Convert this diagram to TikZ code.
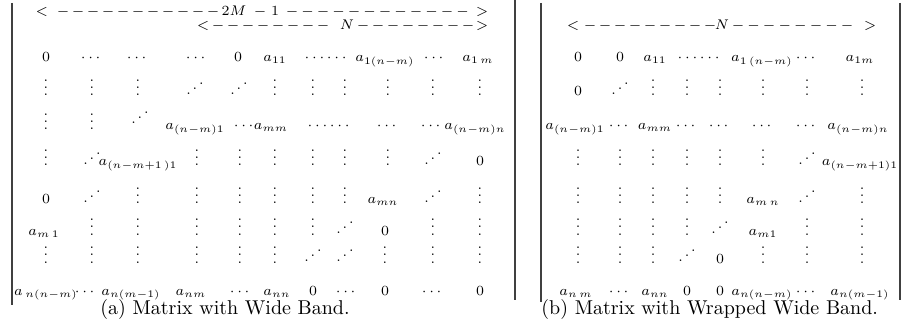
\documentclass[tikz,border=0pt]{standalone}
\usepackage{amsmath}
\newcommand{\myud}{\mathinner{\mkern1mu\raisebox{0.1em}{.}\mkern2mu\raisebox{0.45em}{.}\mkern2mu\raisebox{0.8em}{.}\mkern1mu}}
\newcommand{\myvd}{\vbox{\baselineskip3.6pt\lineskiplimit0pt\hbox{.}\hbox{.}\hbox{.}}}
\tikzset{
  ent/.style={anchor=base, inner sep=0pt, font=\scriptsize},
  capt/.style={anchor=base west, inner sep=0pt, font=\normalsize},
  rule/.style={line width=1pt, black!75}
}
\begin{document}
\begin{tikzpicture}[x=0.5pt,y=-0.5pt]
\useasboundingbox (0,0) rectangle (903,336);
% frame rules
\draw[rule] (12,3) -- (12,305);
\draw[rule] (515,0) -- (515,300);
\draw[rule] (541,3) -- (541,302);
\draw[rule] (900,3) -- (900,300);
% ---------- panel (a) headers ----------
\node[ent] (ha-l) at (42,16) {$<$};
\foreach \x [count=\i] in {63,78,...,213} \node[ent] (ha-\i) at (\x,16) {$-$};
\node[ent] (ha-2m) at (234,16) {$2M$};
\node[ent] (ha-m) at (260,16) {$-$};
\node[ent] (ha-1) at (275,16) {$1$};
\foreach \k [count=\i] in {0,...,11} \node[ent] (hb-\i) at ({292+15.5*\k},16) {$-$};
\node[ent] (ha-r) at (482,16) {$>$};
\node[ent] (hc-l) at (203,30) {$<$};
\foreach \x [count=\i] in {218,233,...,323} \node[ent] (hc-\i) at (\x,30) {$-$};
\node[ent] (hc-n) at (347,30) {$N$};
\foreach \x [count=\i] in {363,378,...,468} \node[ent] (hd-\i) at (\x,30) {$-$};
\node[ent] (hc-r) at (482,30) {$>$};
% ---------- panel (a) matrix ----------
\foreach \x/\t [count=\i] in {46/0,92/\cdots,138/\cdots,197/\cdots,238/0,275/a_{11},327/\cdots\cdots,385/a_{1(n-m)},435/\cdots,478/a_{1\,m}}
  \node[ent] (A1-\i) at (\x,62) {$\t$};
\foreach \x/\t [count=\i] in {46/\myvd,92/\myvd,138/\myvd,195/\myud,239/\myud,275/\myvd,313/\myvd,345/\myvd,388/\myvd,433/\myvd,480/\myvd}
  \node[ent] (A2-\i) at (\x,96) {$\t$};
\foreach \x/\t [count=\i] in {46/\myvd,92/\myvd,195/a_{(n-m)1},245/\cdots,271/a_{mm},330/\cdots\cdots,388/\cdots,432/\cdots,475/a_{(n-m)n}}
  \node[ent] (A3-\i) at (\x,130) {$\t$};
\node[ent] (A3-u) at (140,125) {$\myud$};
\foreach \x/\t [count=\i] in {46/\myvd,92/\myud,138/a_{(n-m+1\,)1},197/\myvd,240/\myvd,275/\myvd,313/\myvd,345/\myvd,388/\myvd,433/\myud,480/0}
  \node[ent] (A4-\i) at (\x,166) {$\t$};
\foreach \x/\t [count=\i] in {46/0,92/\myud,138/\myvd,197/\myvd,240/\myvd,275/\myvd,313/\myvd,345/\myvd,383/a_{mn},433/\myud,480/\myvd}
  \node[ent] (A5-\i) at (\x,204) {$\t$};
\foreach \x/\t [count=\i] in {44/a_{m\,1},92/\myvd,138/\myvd,197/\myvd,240/\myvd,275/\myvd,313/\myvd,345/\myud,385/0,433/\myvd,480/\myvd}
  \node[ent] (A6-\i) at (\x,235) {$\t$};
\foreach \x/\t [count=\i] in {46/\myvd,92/\myvd,138/\myvd,197/\myvd,240/\myvd,275/\myvd,313/\myud,345/\myud,385/\myvd,433/\myvd,480/\myvd}
  \node[ent] (A7-\i) at (\x,263) {$\t$};
\foreach \x/\t [count=\i] in {46/a_{\,n(n-m)},86/\cdots,131/a_{n(m-1)},191/a_{nm},241/\cdots,277/a_{nn},313/0,347/\cdots,385/0,433/\cdots,480/0}
  \node[ent] (A8-\i) at (\x,295) {$\t$};
% ---------- panel (b) header ----------
\node[ent] (hb-l) at (573,30) {$<$};
\foreach \k [count=\i] in {0,...,8} \node[ent] (he-\i) at ({590+15*\k},30) {$-$};
\node[ent] (hb-n) at (722,30) {$N$};
\foreach \k [count=\i] in {0,...,7} \node[ent] (hf-\i) at ({738+15.6*\k},30) {$-$};
\node[ent] (hb-r) at (870,30) {$>$};
% ---------- panel (b) matrix ----------
\foreach \x/\t [count=\i] in {578/0,620/0,655/a_{11},700/\cdots\cdots,762/a_{1\,(n-m)},807/\cdots,860/a_{1m}}
  \node[ent] (B1-\i) at (\x,62) {$\t$};
\foreach \x/\t [count=\i] in {578/0,620/\myud,653/\myvd,687/\myvd,720/\myvd,763/\myvd,807/\myvd,862/\myvd}
  \node[ent] (B2-\i) at (\x,96) {$\t$};
\foreach \x/\t [count=\i] in {575/a_{(n-m)1},620/\cdots,655/a_{mm},687/\cdots,720/\cdots,763/\cdots,807/\cdots,858/a_{(n-m)n}}
  \node[ent] (B3-\i) at (\x,130) {$\t$};
\foreach \x/\t [count=\i] in {578/\myvd,620/\myvd,653/\myvd,687/\myvd,720/\myvd,763/\myvd,807/\myud,860/a_{(n-m+1)1}}
  \node[ent] (B4-\i) at (\x,166) {$\t$};
\foreach \x/\t [count=\i] in {578/\myvd,620/\myvd,653/\myvd,687/\myvd,720/\myvd,763/a_{m\,n},807/\myud,862/\myvd}
  \node[ent] (B5-\i) at (\x,204) {$\t$};
\foreach \x/\t [count=\i] in {578/\myvd,620/\myvd,653/\myvd,687/\myvd,720/\myud,763/a_{m1},807/\myvd,862/\myvd}
  \node[ent] (B6-\i) at (\x,235) {$\t$};
\foreach \x/\t [count=\i] in {578/\myvd,620/\myvd,653/\myvd,687/\myud,720/0,763/\myvd,807/\myvd,862/\myvd}
  \node[ent] (B7-\i) at (\x,263) {$\t$};
\foreach \x/\t [count=\i] in {576/a_{n\,m},620/\cdots,655/a_{nn},687/0,720/0,762/a_{n(n-m)},807/\cdots,860/a_{n(m-1)}}
  \node[ent] (B8-\i) at (\x,295) {$\t$};
% ---------- captions ----------
\node[capt] (capa) at (100,314) {(a) Matrix with Wide Band.};
\node[capt] (capb) at (541,314) {(b) Matrix with Wrapped Wide Band.};
\end{tikzpicture}
\end{document}
